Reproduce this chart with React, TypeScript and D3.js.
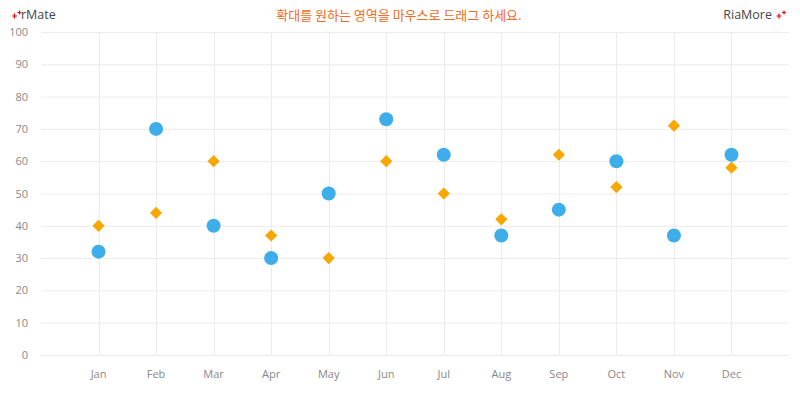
import React from "react";
import * as d3 from "d3";

const months = ["Jan", "Feb", "Mar", "Apr", "May", "Jun", "Jul", "Aug", "Sep", "Oct", "Nov", "Dec"];
const seriesCircle = [32, 70, 40, 30, 50, 73, 62, 37, 45, 60, 37, 62];
const seriesDiamond = [40, 44, 60, 37, 30, 60, 50, 42, 62, 52, 71, 58];
const yTicks = [0, 10, 20, 30, 40, 50, 60, 70, 80, 90, 100];

const W = 800;
const H = 400;
const left = 41;
const right = 789;
const top = 32;
const bottom = 355;
const FONT = "'Open Sans', 'Noto Sans CJK KR', sans-serif";

function Plus({ cx, cy, s }: { cx: number; cy: number; s: number }) {
  return (
    <path d={`M${cx - s},${cy}H${cx + s}M${cx},${cy - s}V${cy + s}`} stroke="#e00" strokeWidth={1.2} fill="none" />
  );
}

export default function App() {
  const x = d3.scaleLinear().domain([0, 13]).range([left, right]);
  const y = d3.scaleLinear().domain([0, 100]).range([bottom, top]);
  const diamond = d3.symbol().type(d3.symbolDiamond2).size(95)();
  return (
    <svg width={W} height={H} style={{ position: "absolute", left: 0, top: 0 }} fontFamily={FONT}>
      <rect width={W} height={H} fill="#fff" />
      {yTicks.map((t) => (
        <line key={"h" + t} x1={left} x2={right} y1={y(t) + 0.5} y2={y(t) + 0.5} stroke="#ececec" strokeWidth={1} />
      ))}
      {months.map((m, i) => (
        <line key={"v" + m} x1={Math.round(x(i + 1)) + 0.5} x2={Math.round(x(i + 1)) + 0.5} y1={top} y2={bottom} stroke="#ececec" strokeWidth={1} />
      ))}
      {yTicks.map((t) => (
        <text key={"yl" + t} x={28} y={y(t) + 4} textAnchor="end" fontSize={11} fill="#888">
          {t}
        </text>
      ))}
      {months.map((m, i) => (
        <text key={"xl" + m} x={x(i + 1)} y={378} textAnchor="middle" fontSize={11} fill="#888">
          {m}
        </text>
      ))}
      {seriesDiamond.map((v, i) => (
        <path key={"d" + i} d={diamond || ""} transform={`translate(${x(i + 1)},${y(v)})`} fill="#f7a700" />
      ))}
      {seriesCircle.map((v, i) => (
        <circle key={"c" + i} cx={x(i + 1)} cy={y(v)} r={7} fill="#3daee9" />
      ))}
      <Plus cx={14.5} cy={16} s={2.5} />
      <Plus cx={19.5} cy={12.5} s={2} />
      <text x={21} y={19} fontSize={12.5} fill="#444">rMate</text>
      <text x={772} y={19} fontSize={12.5} fill="#444" textAnchor="end">RiaMore</text>
      <Plus cx={779} cy={16} s={2.5} />
      <Plus cx={784} cy={12.5} s={2} />
      <text x={399} y={20} fontSize={13} fill="#f26b22" textAnchor="middle" fontFamily="'Noto Sans CJK KR', sans-serif" fontWeight={400}>
        확대를 원하는 영역을 마우스로 드래그 하세요.
      </text>
    </svg>
  );
}
